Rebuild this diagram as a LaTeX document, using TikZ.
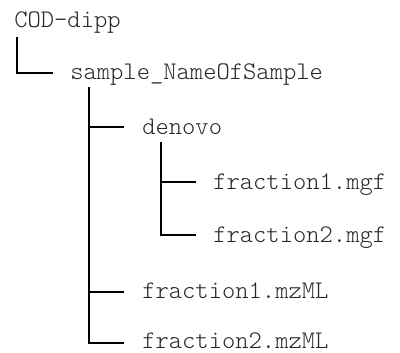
\documentclass[tikz,border=0pt]{standalone}
\usepackage{fontspec}
\setmonofont{Latin Modern Mono Light}
\usetikzlibrary{calc}
\begin{document}
\begin{tikzpicture}[x=0.75pt,y=-0.75pt,
  every node/.style={anchor=base west, inner sep=0pt, font=\fontsize{19pt}{22pt}\selectfont\ttfamily, text=black!85},
  branch/.style={line width=0.9pt, black}]
\useasboundingbox (0,0) rectangle (400,353);
\node (root)   at (14,28)  {COD-dipp};
\node (sample) at (70,80)  {sample\_NameOfSample};
\node (denovo) at (142,134) {denovo};
\node (mgfA)   at (213,189) {fraction1.mgf};
\node (mgfB)   at (213,242) {fraction2.mgf};
\node (mzA)    at (142,298) {fraction1.mzML};
\node (mzB)    at (142,348) {fraction2.mzML};
% level 1
\coordinate (t0) at ($(root.base west)+(3,9)$);
\coordinate (e0) at ($(sample.base west)+(-17,-7)$);
\draw[branch] (t0) |- (e0);
% level 2
\coordinate (t1) at ($(sample.base west)+(19,7)$);
\coordinate (e1a) at ($(denovo.base west)+(-18,-7)$);
\coordinate (e1b) at ($(mzA.base west)+(-18,-6)$);
\coordinate (e1c) at ($(mzB.base west)+(-18,-5)$);
\draw[branch] (t1) |- (e1c);
\draw[branch] (t1 |- e1a) -- (e1a);
\draw[branch] (t1 |- e1b) -- (e1b);
% level 3
\coordinate (t2) at ($(denovo.base west)+(19,8)$);
\coordinate (e2a) at ($(mgfA.base west)+(-17,-7)$);
\coordinate (e2b) at ($(mgfB.base west)+(-17,-7)$);
\draw[branch] (t2) |- (e2b);
\draw[branch] (t2 |- e2a) -- (e2a);
\end{tikzpicture}
\end{document}
